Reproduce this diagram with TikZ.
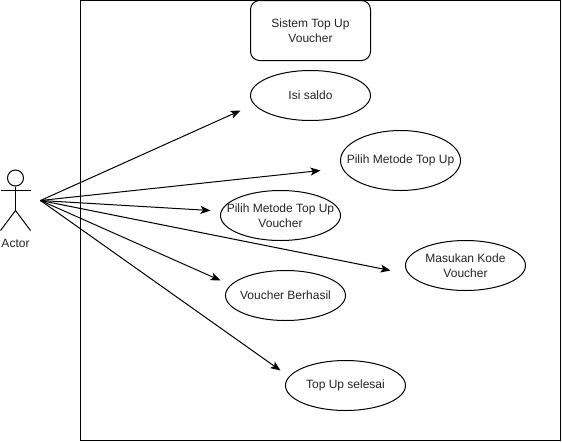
\documentclass[tikz,border=0pt]{standalone}
\usepackage{fontspec}
\setmainfont{Liberation Sans}
\usetikzlibrary{shapes.geometric,arrows.meta}
\tikzset{
  every node/.style={font=\fontsize{12}{15.5}\selectfont,text=black!85,align=center},
  usecase/.style={draw=black,ellipse,minimum width=120pt,minimum height=50pt,inner xsep=-30pt,inner ysep=0pt,line width=1pt},
  sysbox/.style={draw=black,rounded corners=9pt,minimum width=120pt,minimum height=60pt,inner sep=0pt,line width=1pt},
  frame/.style={draw=black,line width=1pt},
  actorline/.style={draw=black,line width=1pt},
  conn/.style={draw=black,line width=1pt,-{Stealth[length=10pt,width=8pt,inset=2.5pt]}}
}
\begin{document}
\begin{tikzpicture}[x=1pt,y=-1pt]
\useasboundingbox (0,0) rectangle (562,442);
\fill[white] (0,0) rectangle (562,442);
\draw[frame] (80.5,0.5) rectangle (560.5,440.5);
\node[sysbox] (sys) at (310.5,30.5) {Sistem Top Up\\Voucher};
\node[usecase] (isi) at (310.5,95.5) {Isi saldo};
\node[usecase,minimum height=60pt] (metode) at (400.5,160.5) {Pilih Metode Top Up};
\node[usecase] (voucher) at (280.5,215.5) {Pilih Metode Top Up\\Voucher};
\node[usecase] (kode) at (465.5,265.5) {Masukan Kode\\Voucher};
\node[usecase] (berhasil) at (285.5,295.5) {Voucher Berhasil};
\node[usecase] (selesai) at (345.5,385.5) {Top Up selesai};
% actor
\node[draw=black,circle,line width=1pt,minimum size=16pt,inner sep=0pt] (head) at (15.5,178) {};
\coordinate (hip) at (15.5,210.5);
\draw[actorline] (head.south) -- (hip);
\draw[actorline] (0.5,190.5) -- (30.5,190.5);
\draw[actorline] (0.5,230.5) -- (hip) -- (30.5,230.5);
\node (actorlabel) at (15.5,243.5) {Actor};
\coordinate (src) at (40.5,200.5);
\coordinate (t1) at (240.5,110.5);
\coordinate (t2) at (320.5,170.5);
\coordinate (t3) at (210.5,210.5);
\coordinate (t4) at (390.5,270.5);
\coordinate (t5) at (220.5,280.5);
\coordinate (t6) at (280.5,370.5);
\foreach \t in {t1,t2,t3,t4,t5,t6} \draw[conn] (src) -- (\t);
\end{tikzpicture}
\end{document}
